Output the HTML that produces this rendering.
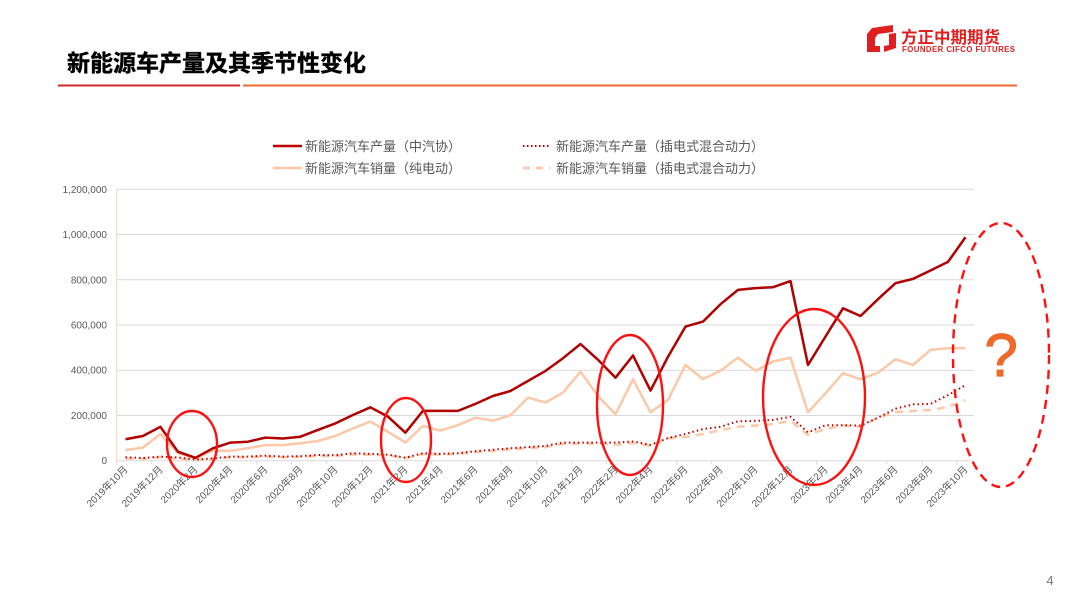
<!DOCTYPE html>
<html><head><meta charset="utf-8">
<style>
body{margin:0;width:1080px;height:608px;background:#fff;overflow:hidden;font-family:"Liberation Sans","Noto Sans CJK SC",sans-serif;}
</style></head>
<body>
<svg width="1080" height="608" xmlns="http://www.w3.org/2000/svg" font-family="Liberation Sans, Noto Sans CJK SC, sans-serif">
<text x="67" y="71" font-size="23" font-weight="bold" fill="#000" stroke="#000" stroke-width="0.4">新能源车产量及其季节性变化</text>
<line x1="58" y1="85.5" x2="240" y2="85.5" stroke="#d0282a" stroke-width="2"/>
<line x1="243" y1="85.5" x2="1017" y2="85.5" stroke="#ec6a35" stroke-width="2"/>
<g>
<path d="M872 28 L893 25 L893 32 L878 34 L875 38 L875 46 L880 46 L880 52 L867 52 L867 34 Z" fill="#e02020"/>
<path d="M889 34 L896 33 L896 48 L884 52 L884 46 L889 45 Z" fill="#e02020"/>
<text x="901" y="43" font-size="16.5" font-weight="bold" fill="#e02020">方正中期期货</text>
<text x="902" y="52" font-size="7.8" font-weight="bold" fill="#e02020" textLength="113">FOUNDER CIFCO FUTURES</text>
</g>
<g font-size="13" fill="#595959">
<line x1="273" y1="146" x2="302" y2="146" stroke="#c00000" stroke-width="2.5"/>
<text x="305" y="151">新能源汽车产量（中汽协）</text>
<line x1="523" y1="146" x2="550" y2="146" stroke="#c00000" stroke-width="2" stroke-dasharray="1.5 2.5"/>
<text x="556" y="151">新能源汽车产量（插电式混合动力）</text>
<line x1="273" y1="168" x2="302" y2="168" stroke="#fbc8a8" stroke-width="2.5"/>
<text x="305" y="173">新能源汽车销量（纯电动）</text>
<line x1="523" y1="168" x2="550" y2="168" stroke="#fbc8a8" stroke-width="2.5" stroke-dasharray="7 6"/>
<text x="556" y="173">新能源汽车销量（插电式混合动力）</text>
</g>
<g id="grid"></g>
<g id="series"></g>
<g fill="none" stroke="#ff1010" stroke-width="2.4">
<ellipse cx="192" cy="444" rx="25" ry="33"/>
<ellipse cx="406" cy="440" rx="25" ry="42"/>
<ellipse cx="630" cy="405" rx="33" ry="70"/>
<ellipse cx="814" cy="397" rx="51" ry="88"/>
<ellipse cx="1001" cy="355" rx="48" ry="132" stroke-dasharray="9 6"/>
</g>
<text x="1001" y="376" font-size="60" fill="#ee6a2a" text-anchor="middle" stroke="#ee6a2a" stroke-width="1.2">?</text>
<text x="1050" y="585" font-size="13" fill="#777" text-anchor="middle">4</text>
</svg>
<script>
const yTicks=[0,200000,400000,600000,800000,1000000,1200000];
const xLabels=["2019年10月","2019年12月","2020年2月","2020年4月","2020年6月","2020年8月","2020年10月","2020年12月","2021年2月","2021年4月","2021年6月","2021年8月","2021年10月","2021年12月","2022年2月","2022年4月","2022年6月","2022年8月","2022年10月","2022年12月","2023年2月","2023年4月","2023年6月","2023年8月","2023年10月"];
const prodTotal=[95000,109000,150000,40000,13000,55000,80000,84000,102000,98000,106000,136000,165000,202000,236000,195000,124000,220000,220000,220000,251000,286000,308000,353000,397000,453000,516000,446000,367000,465000,310000,460000,593000,615000,692000,755000,763000,767000,794000,423000,549000,674000,640000,714000,785000,804000,841000,879000,988000];
const salesBEV=[47000,58000,118000,33000,11000,44000,44000,55000,69000,69000,77000,87000,109000,143000,173000,128000,80000,154000,133000,157000,190000,177000,201000,279000,257000,301000,394000,286000,205000,360000,214000,269000,423000,361000,398000,456000,397000,438000,456000,214000,298000,387000,360000,389000,449000,423000,490000,497000,497000];
const prodPHEV=[15000,12000,18000,14000,5000,10000,18000,18000,22000,18000,20000,25000,24000,33000,30000,27000,13000,33000,30000,33000,42000,48000,55000,60000,65000,80000,80000,80000,80000,85000,70000,100000,118000,140000,150000,174000,176000,180000,194000,125000,157000,157000,155000,190000,230000,249000,251000,290000,334000];
const salesPHEV=[10000,8000,14000,10000,3000,8000,14000,15000,18000,15000,17000,21000,21000,28000,26000,24000,11000,29000,27000,30000,37000,43000,50000,55000,60000,74000,76000,76000,70000,78000,66000,100000,105000,118000,135000,150000,155000,162000,176000,114000,140000,155000,150000,190000,215000,220000,224000,238000,268000];
const NS="http://www.w3.org/2000/svg";
const X0=116.7,STEP=17.5,Y0=460.7,YTOP=189.3,YMAX=1200000;
const xPos=i=>X0+STEP/2+i*STEP;
const yPos=v=>Y0-(v/YMAX)*(Y0-YTOP);
function mk(tag,attrs,parent){const e=document.createElementNS(NS,tag);for(const k in attrs)e.setAttribute(k,attrs[k]);parent.appendChild(e);return e;}
const grid=document.getElementById('grid');
const xEnd=X0+prodTotal.length*STEP;
yTicks.forEach(v=>{
  const l=mk('line',{x1:X0,x2:xEnd,y1:yPos(v),y2:yPos(v),stroke:'#d9d9d9','stroke-width':1},grid);
  
  
  const t=mk('text',{x:107,y:yPos(v)+3.5,'font-size':10,fill:'#595959','text-anchor':'end'},grid);
  t.textContent=v.toLocaleString('en-US');
  
  
});
const ya=mk('line',{x1:X0,x2:X0,y1:YTOP,y2:Y0,stroke:'#fbd5bd','stroke-width':1},grid);


for(let k=0;k<=prodTotal.length/2;k++){
  const x=X0+k*2*STEP;
  const tk=mk('line',{x1:x,x2:x,y1:Y0,y2:Y0+4,stroke:'#d9d9d9'},grid);
  
  
}
xLabels.forEach((s,k)=>{
  const x=xPos(k*2)+3,y=470;
  const t=mk('text',{x:x,y:y,'font-size':10,fill:'#595959','text-anchor':'end',transform:`rotate(-45 ${x} ${y})`},grid);
  t.textContent=s;
  
  
});
const ser=document.getElementById('series');
function line(data,style,name){
  const d=data.map((v,i)=>(i?'L':'M')+xPos(i).toFixed(1)+' '+yPos(v).toFixed(1)).join(' ');
  const p=mk('path',Object.assign({d:d,fill:'none','stroke-linejoin':'round'},style),ser);
  
  
}
line(salesPHEV,{stroke:'#fbc8a8','stroke-width':2.5,'stroke-dasharray':'8 6'},'series-phev-sales');
line(salesBEV,{stroke:'#fbc8a8','stroke-width':2.5},'series-bev-sales');
line(prodPHEV,{stroke:'#c00000','stroke-width':2,'stroke-dasharray':'1.5 3'},'series-phev-production');
line(prodTotal,{stroke:'#b00000','stroke-width':2.5},'series-total-production');
</script>
</body></html>
